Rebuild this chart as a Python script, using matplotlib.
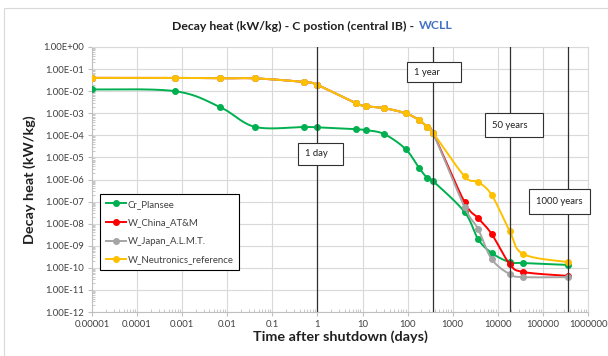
import numpy as np
import matplotlib
matplotlib.use('Agg')
import matplotlib.pyplot as plt
from matplotlib.patches import Rectangle
from matplotlib.ticker import FixedLocator, FixedFormatter, LogLocator, NullFormatter

plt.rcParams['font.family'] = ['Lato', 'DejaVu Sans']

# time after shutdown (days)
times = [1e-5, 6.94e-4, 6.94e-3, 4.17e-2, 0.5, 1, 7, 12, 30, 90, 180, 270,
         365, 1826, 3652, 7305, 18262, 36525, 365250]

cr_plansee = [1.2e-2, 1.0e-2, 1.9e-3, 2.4e-4, 2.4e-4, 2.3e-4, 1.9e-4, 1.7e-4, 1.15e-4,
              2.4e-5, 3.3e-6, 1.2e-6, 8.5e-7, 3.4e-8, 2.0e-9, 4.7e-10, 1.8e-10, 1.65e-10, 1.35e-10]
w_neutronics = [4.0e-2, 4.0e-2, 3.8e-2, 3.8e-2, 2.6e-2, 1.9e-2, 2.9e-3, 2.1e-3, 1.7e-3,
                1.0e-3, 4.9e-4, 2.4e-4, 1.3e-4, 1.4e-6, 7.7e-7, 2.0e-7, 4.7e-9, 4.2e-10, 1.8e-10]
w_china = [4.0e-2, 4.0e-2, 3.8e-2, 3.8e-2, 2.6e-2, 1.9e-2, 2.9e-3, 2.1e-3, 1.7e-3,
           1.0e-3, 4.9e-4, 2.4e-4, 1.3e-4, 9.5e-8, 1.8e-8, 3.4e-9, 1.5e-10, 6.5e-11, 4.3e-11]
w_japan = [4.0e-2, 4.0e-2, 3.8e-2, 3.8e-2, 2.6e-2, 1.9e-2, 2.9e-3, 2.1e-3, 1.7e-3,
           1.0e-3, 4.9e-4, 2.4e-4, 1.3e-4, 5.7e-8, 5.7e-9, 2.5e-10, 5.2e-11, 3.8e-11, 3.8e-11]

series_names = ['Cr_Plansee', 'W_China_AT&M', 'W_Japan_A.L.M.T.', 'W_Neutronics_reference']
series_colors = ['#00B050', '#FF0000', '#A5A5A5', '#FFC000']

x_ticks = [1e-5, 1e-4, 1e-3, 1e-2, 1e-1, 1, 10, 100, 1000, 10000, 100000, 1000000]
x_labels = ['0.00001', '0.0001', '0.001', '0.01', '0.1', '1', '10', '100', '1000',
            '10000', '100000', '1000000']
y_ticks = [10.0 ** -k for k in range(13)]
y_labels = ['1.00E+00'] + ['1.00E-%02d' % k for k in range(1, 13)]

markers = [(1, '1 day'), (365.25, '1 year'), (18262.5, '50 years'), (365250, '1000 years')]
# label boxes in axes fraction: x0, x1, y0, y1
box_pos = [(0.415, 0.506, 0.555, 0.638), (0.635, 0.744, 0.868, 0.943),
           (0.792, 0.909, 0.660, 0.751), (0.881, 1.004, 0.370, 0.464)]


def smooth(xs, ys, n=30):
    # excel-like smoothed line (catmull-rom bezier) in log-log space
    lx = np.log10(xs)
    ly = np.log10(ys)
    pts = np.column_stack([lx, ly])
    out = []
    for i in range(len(pts) - 1):
        p0 = pts[max(i - 1, 0)]
        p1 = pts[i]
        p2 = pts[i + 1]
        p3 = pts[min(i + 2, len(pts) - 1)]
        c1 = p1 + (p2 - p0) / 6
        c2 = p2 - (p3 - p1) / 6
        t = np.linspace(0, 1, n)[:, None]
        seg = ((1 - t) ** 3) * p1 + 3 * ((1 - t) ** 2) * t * c1 + 3 * (1 - t) * t ** 2 * c2 + t ** 3 * p2
        out.append(seg)
    out = np.vstack(out)
    return 10 ** out[:, 0], 10 ** out[:, 1]


fig = plt.figure(figsize=(6.08, 3.56), dpi=100)
fig.patches.append(Rectangle((4 / 608, -0.1), 1.2, 1 - 8 / 356 + 0.1, transform=fig.transFigure,
                             fill=False, edgecolor='#D9D9D9', linewidth=0.8))
ax = fig.add_axes([92 / 608, 1 - 312 / 356, 496 / 608, 265 / 356])
ax.set_xscale('log')
ax.set_yscale('log')
ax.set_xlim(1e-5, 1e6)
ax.set_ylim(1e-12, 1)

all_series = [cr_plansee, w_china, w_japan, w_neutronics]
for i, (vals, col) in enumerate(zip(all_series, series_colors)):
    sx, sy = smooth(times, vals)
    ax.plot(sx, sy, color=col, linewidth=1.4, zorder=3 + i * 0.1)
    ax.plot(times, vals, linestyle='none', marker='o', markersize=4, color=col, zorder=3.05 + i * 0.1)

handles = [plt.Line2D([], [], color=c, marker='o', markersize=4, linewidth=1.4) for c in series_colors]
leg = ax.legend(handles, series_names, loc='upper left', bbox_to_anchor=(0.016, 0.445),
                fontsize=6.9, frameon=True, fancybox=False, edgecolor='black', framealpha=1,
                labelspacing=1.0, handlelength=2.1, handletextpad=0.2, borderpad=0.6,
                borderaxespad=0)
leg.get_frame().set_linewidth(0.8)
for t in leg.get_texts():
    t.set_color('#404040')

for (xv, label), (bx0, bx1, by0, by1) in zip(markers, box_pos):
    ax.axvline(xv, color='#303030', linewidth=0.9, zorder=5)
    ax.add_patch(Rectangle((bx0, by0), bx1 - bx0, by1 - by0, transform=ax.transAxes,
                           facecolor='white', edgecolor='#303030', linewidth=0.8, zorder=6,
                           clip_on=False))
    ax.text(bx0 + 0.014, (by0 + by1) / 2, label, transform=ax.transAxes, ha='left', va='center',
            fontsize=6.8, color='#202020', zorder=7)

ax.xaxis.set_major_locator(FixedLocator(x_ticks))
ax.xaxis.set_major_formatter(FixedFormatter(x_labels))
ax.yaxis.set_major_locator(FixedLocator(y_ticks))
ax.yaxis.set_major_formatter(FixedFormatter(y_labels))
ax.xaxis.set_minor_locator(LogLocator(base=10, subs=np.arange(2, 10), numticks=30))
ax.yaxis.set_minor_locator(LogLocator(base=10, subs=np.arange(2, 10), numticks=30))
ax.xaxis.set_minor_formatter(NullFormatter())
ax.yaxis.set_minor_formatter(NullFormatter())
ax.tick_params(which='major', length=3, color='#BFBFBF', labelsize=6.8, labelcolor='#404040', pad=3)
ax.tick_params(which='minor', length=2, color='#BFBFBF', direction='in')
ax.grid(True, which='major', color='#D9D9D9', linewidth=0.8)
for side in ['top', 'right']:
    ax.spines[side].set_color('#D9D9D9')
for side in ['left', 'bottom']:
    ax.spines[side].set_color('#BFBFBF')
ax.set_axisbelow(True)

fig.text(414 / 608, 0.927, 'Decay heat (kW/kg) - C postion (central IB) -', ha='right', va='center',
         fontsize=8.8, fontweight='bold', color='#202020')
fig.text(419 / 608, 0.927, 'WCLL', ha='left', va='center', fontsize=8.8, fontweight='bold',
         color='#4472C4')
fig.text(30 / 608, 0.494, 'Decay heat (kW/kg)', rotation=90, ha='center', va='center',
         fontsize=10.4, fontweight='bold', color='#202020')
fig.text(340 / 608, 0.053, 'Time after shutdown (days)', ha='center', va='center',
         fontsize=10.4, fontweight='bold', color='#202020')

fig.savefig('out.png', dpi=100)
